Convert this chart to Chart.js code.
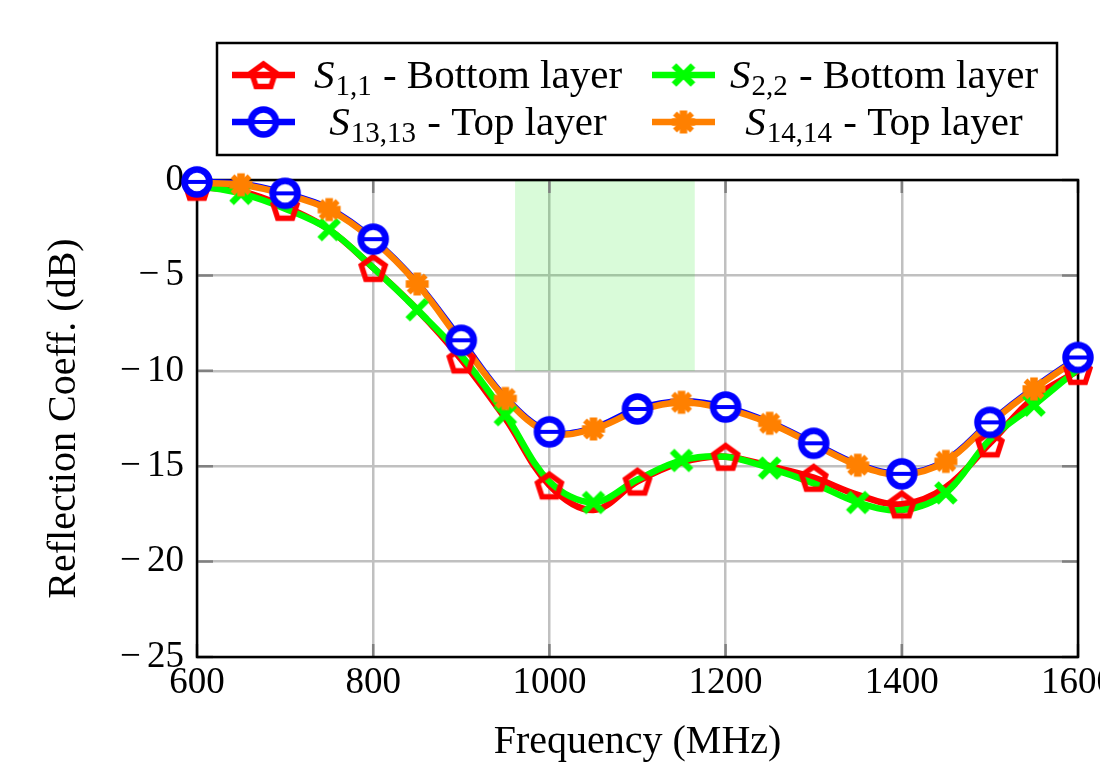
<!DOCTYPE html>
<html>
<head>
<meta charset="utf-8">
<script src="https://cdn.jsdelivr.net/npm/chart.js@4"></script>
<style>
  html, body { margin: 0; padding: 0; background: #fff; overflow: hidden; }
</style>
</head>
<body>
<canvas id="chart" width="1140" height="768"></canvas>
<script>
// frequency points (MHz)
const freqs = [600, 650, 700, 750, 800, 850, 900, 950, 1000, 1050, 1100,
               1150, 1200, 1250, 1300, 1350, 1400, 1450, 1500, 1550, 1600];

// reflection coefficients (dB)
const s11 = [-0.35, -0.6, -1.4, -2.6, -4.6, -6.8, -9.4, -12.5, -16.0, -17.3, -15.8,
             -14.8, -14.5, -15.0, -15.6, -16.5, -17.0, -16.1, -13.8, -11.4, -10.0];
const s22 = [-0.3, -0.7, -1.5, -2.6, -4.6, -6.8, -9.2, -12.3, -15.8, -16.9, -15.7,
             -14.7, -14.5, -15.1, -15.9, -16.9, -17.3, -16.4, -13.6, -11.8, -9.9];
const s1313 = [-0.1, -0.2, -0.7, -1.5, -3.1, -5.4, -8.4, -11.4, -13.2, -13.0, -12.0,
               -11.6, -11.9, -12.7, -13.8, -14.9, -15.4, -14.7, -12.7, -10.9, -9.3];
const s1414 = [-0.15, -0.25, -0.75, -1.55, -3.15, -5.45, -8.5, -11.45, -13.25, -13.05, -12.1,
               -11.65, -12.0, -12.75, -13.85, -14.95, -15.45, -14.75, -12.75, -10.95, -9.35];

const seriesNames = [
  { sub: '1,1', rest: ' - Bottom layer' },
  { sub: '2,2', rest: ' - Bottom layer' },
  { sub: '13,13', rest: ' - Top layer' },
  { sub: '14,14', rest: ' - Top layer' }
];

// shaded band
const bandFreq = [961, 1165];
const bandDb = [0, -10];

const FONT = '"Liberation Serif", "Times New Roman", serif';

// marker images
function makeMarker(kind, color) {
  const c = document.createElement('canvas');
  c.width = 40; c.height = 40;
  const g = c.getContext('2d');
  g.translate(20, 20);
  g.strokeStyle = color;
  g.fillStyle = color;
  g.lineCap = 'butt';
  if (kind === 'pentagon') {
    g.lineWidth = 5.5;
    g.lineJoin = 'miter';
    g.beginPath();
    for (let i = 0; i < 5; i++) {
      const a = -Math.PI / 2 + i * 2 * Math.PI / 5;
      const px = 12.5 * Math.cos(a), py = 12.5 * Math.sin(a) + 1.5;
      if (i === 0) g.moveTo(px, py); else g.lineTo(px, py);
    }
    g.closePath();
    g.stroke();
  } else if (kind === 'circle') {
    g.beginPath();
    g.arc(0, 0, 12.5, 0, Math.PI * 2);
    g.fillStyle = '#fff';
    g.fill();
    g.lineWidth = 6.5;
    g.stroke();
    g.fillStyle = color;
    g.fillRect(-10, -2, 20, 4);
  } else if (kind === 'cross') {
    g.lineWidth = 6.5;
    g.beginPath();
    g.moveTo(-9.5, -9.5); g.lineTo(9.5, 9.5);
    g.moveTo(9.5, -9.5); g.lineTo(-9.5, 9.5);
    g.stroke();
  } else if (kind === 'star') {
    g.lineWidth = 7.5;
    g.beginPath();
    g.moveTo(-11.5, 0); g.lineTo(11.5, 0);
    g.moveTo(0, -11.5); g.lineTo(0, 11.5);
    g.stroke();
    g.lineWidth = 5.5;
    g.beginPath();
    g.moveTo(-8.5, -8.5); g.lineTo(8.5, 8.5);
    g.moveTo(8.5, -8.5); g.lineTo(-8.5, 8.5);
    g.stroke();
  }
  return c;
}

const colors = ['#ff0000', '#00ff00', '#0000ff', '#ff8000'];
const markers = [
  makeMarker('pentagon', colors[0]),
  makeMarker('cross', colors[1]),
  makeMarker('circle', colors[2]),
  makeMarker('star', colors[3])
];
const values = [s11, s22, s1313, s1414];
// red and blue marks at 600, 700, ...; green and orange at 650, 750, ...
const markEvery = [0, 1, 0, 1];

const datasets = [];
values.forEach((vals, k) => {
  datasets.push({
    data: freqs.map((f, i) => ({ x: f, y: vals[i] })),
    borderColor: colors[k],
    borderWidth: 6.5,
    pointRadius: 0,
    tension: 0.35,
    fill: false,
    clip: false,
    order: 10 - k
  });
});
values.forEach((vals, k) => {
  datasets.push({
    data: freqs.map((f, i) => ({ x: f, y: vals[i] })).filter((p, i) => i % 2 === markEvery[k]),
    showLine: false,
    pointStyle: markers[k],
    pointRadius: 15,
    clip: false,
    order: 4 - k
  });
});

const backdrop = {
  id: 'backdrop',
  beforeDatasetsDraw(chart) {
    const { ctx, chartArea: a, scales: { x, y } } = chart;
    ctx.save();
    // band
    ctx.fillStyle = 'rgba(0, 230, 0, 0.15)';
    const bx0 = x.getPixelForValue(bandFreq[0]), bx1 = x.getPixelForValue(bandFreq[1]);
    const by0 = y.getPixelForValue(bandDb[0]), by1 = y.getPixelForValue(bandDb[1]);
    ctx.fillRect(bx0, by0, bx1 - bx0, by1 - by0);
    // inner tick marks
    ctx.strokeStyle = '#808080';
    ctx.lineWidth = 2.5;
    ctx.beginPath();
    x.ticks.forEach(t => {
      const px = x.getPixelForValue(t.value);
      ctx.moveTo(px, a.bottom); ctx.lineTo(px, a.bottom - 13);
      ctx.moveTo(px, a.top); ctx.lineTo(px, a.top + 13);
    });
    y.ticks.forEach(t => {
      const py = y.getPixelForValue(t.value);
      ctx.moveTo(a.left, py); ctx.lineTo(a.left + 16, py);
      ctx.moveTo(a.right, py); ctx.lineTo(a.right - 16, py);
    });
    ctx.stroke();
    // frame
    ctx.strokeStyle = '#000';
    ctx.lineWidth = 2.5;
    ctx.strokeRect(a.left, a.top, a.right - a.left, a.bottom - a.top);
    ctx.restore();
  },
  afterDraw(chart) {
    const ctx = chart.ctx;
    ctx.save();
    // legend box
    const box = { left: 217, top: 43, right: 1057, bottom: 155 };
    ctx.fillStyle = '#fff';
    ctx.fillRect(box.left, box.top, box.right - box.left, box.bottom - box.top);
    ctx.strokeStyle = '#000';
    ctx.lineWidth = 2.5;
    ctx.strokeRect(box.left, box.top, box.right - box.left, box.bottom - box.top);
    const rows = [75, 122];
    const cols = [{ line: 232, text: 468 }, { line: 652, text: 884 }];
    seriesNames.forEach((s, k) => {
      const r = rows[Math.floor(k / 2)], c = cols[k % 2];
      ctx.strokeStyle = colors[k];
      ctx.lineWidth = 6.5;
      ctx.beginPath();
      ctx.moveTo(c.line, r); ctx.lineTo(c.line + 63, r);
      ctx.stroke();
      ctx.drawImage(markers[k], c.line + 31.5 - 20, r - 20);
      // text with subscript
      ctx.fillStyle = '#000';
      ctx.textBaseline = 'alphabetic';
      const fMain = '41px ' + FONT, fIt = 'italic 41px ' + FONT, fSub = '29px ' + FONT;
      ctx.font = fIt; const wS = ctx.measureText('S').width;
      ctx.font = fSub; const wSub = ctx.measureText(s.sub).width;
      ctx.font = fMain; const wRest = ctx.measureText(s.rest).width;
      let tx = c.text - (wS + wSub + 2 + wRest) / 2;
      const base = r + 13;
      ctx.font = fIt; ctx.fillText('S', tx, base); tx += wS + 1;
      ctx.font = fSub; ctx.fillText(s.sub, tx, base + 7); tx += wSub + 1;
      ctx.font = fMain; ctx.fillText(s.rest, tx, base);
    });
    ctx.restore();
  }
};

new Chart(document.getElementById('chart'), {
  type: 'line',
  data: { datasets: datasets },
  options: {
    responsive: false,
    animation: false,
    devicePixelRatio: 1,
    layout: { padding: { left: 0, top: 180, right: 62, bottom: 0 } },
    plugins: { legend: { display: false }, tooltip: { enabled: false } },
    scales: {
      x: {
        type: 'linear',
        min: 600,
        max: 1600,
        afterFit(scale) { scale.height = 111; },
        ticks: { stepSize: 200, padding: 4, color: '#000', font: { family: FONT, size: 37 },
                 callback: v => String(v) },
        grid: { color: '#c0c0c0', lineWidth: 2.5, drawTicks: false },
        border: { display: false },
        title: { display: true, text: 'Frequency (MHz)', color: '#000',
                 font: { family: FONT, size: 40 }, padding: { top: 0, bottom: 2 } }
      },
      y: {
        min: -25,
        max: 0,
        afterFit(scale) { scale.width = 197; },
        ticks: {
          stepSize: 5, padding: 13, color: '#000', font: { family: FONT, size: 37 },
          callback: v => (v < 0 ? '\u2212\u2006' + Math.abs(v) : String(v))
        },
        grid: { color: '#c0c0c0', lineWidth: 2.5, drawTicks: false },
        border: { display: false },
        title: { display: true, text: 'Reflection Coeff. (dB)', color: '#000',
                 font: { family: FONT, size: 40 }, padding: { top: 40, bottom: 0 } }
      }
    }
  },
  plugins: [backdrop]
});
</script>
</body>
</html>
